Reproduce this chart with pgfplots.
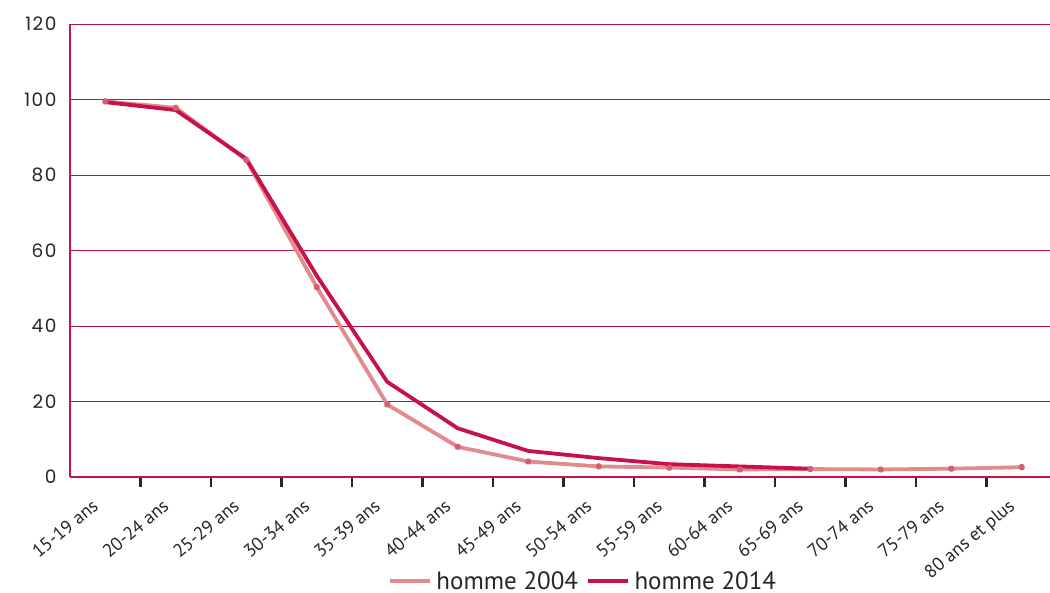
\documentclass[border=0pt]{standalone}
\usepackage{pgfplots}
\pgfplotsset{compat=1.18}
\usepackage{fontspec}
\setmainfont{PT Sans}
\newfontfamily\numfont[LetterSpace=8]{Poppins}
\definecolor{c14}{HTML}{C8104B}
\definecolor{c04}{HTML}{E28A8C}
\definecolor{cgrid}{HTML}{B5164A}
\definecolor{cdot}{HTML}{D2606E}
\begin{document}
\begin{tikzpicture}
\begin{axis}[
  scale only axis,
  width=980pt, height=453pt,
  xmin=-0.5, xmax=13.4,
  ymin=0, ymax=120,
  ytick={0,20,...,120},
  /pgf/number format/assume math mode=true,
  axis x line*=bottom,
  axis y line*=left,
  axis line style={c14, line width=2.5pt, -},
  ymajorgrids,
  grid style={cgrid, line width=0.9pt},
  xtick={0,...,13},
  xticklabels={15-19 ans,20-24 ans,25-29 ans,30-34 ans,35-39 ans,40-44 ans,45-49 ans,50-54 ans,55-59 ans,60-64 ans,65-69 ans,70-74 ans,75-79 ans,80 ans et plus},
  minor xtick={0.5,1.5,...,12.5},
  major tick length=0pt,
  minor tick length=10pt,
  tick align=outside,
  minor tick style={black!85, line width=2.5pt},
  xticklabel style={font=\fontsize{18.5}{19}\selectfont, xshift=-14pt, yshift=-16pt, rotate=40, anchor=north east, text=black!85},
  yticklabel style={font=\fontsize{18.5}{18}\numfont, anchor=east, xshift=-10pt, text=black!85},
  legend style={at={(0.523,-0.2296)}, anchor=center, draw=none, legend columns=2,
    font=\fontsize{25}{25}\selectfont, text=black!85, inner sep=0pt,
    nodes={inner sep=1pt},
    /tikz/every odd column/.append style={column sep=4pt},
    /tikz/every even column/.append style={column sep=7pt}},
  legend image code/.code={\draw[#1, line width=3.5pt] (0pt,0pt) -- (40pt,0pt);},
]
\addplot[c04, line width=3.8pt, line join=round, mark=*, mark size=1.6pt, mark options={cdot, draw=none}] coordinates {
(0,99.5) (1,97.8) (2,84.0) (3,50.3) (4,19.2) (5,8.0) (6,4.1) (7,2.8) (8,2.5) (9,2.0) (10,2.1) (11,2.0) (12,2.2) (13,2.6)};
\addlegendentry{homme 2004}
\addplot[c14, line width=3.8pt, line join=round] coordinates {
(0,99.3) (1,97.2) (2,84.3) (3,53.3) (4,25.2) (5,12.9) (6,6.9) (7,5.0) (8,3.4) (9,2.8) (10,2.2)};
\addlegendentry{homme 2014}
\end{axis}
\pgfresetboundingbox
\path (-70pt,-115pt) rectangle (980pt,477pt);
\end{tikzpicture}
\end{document}
